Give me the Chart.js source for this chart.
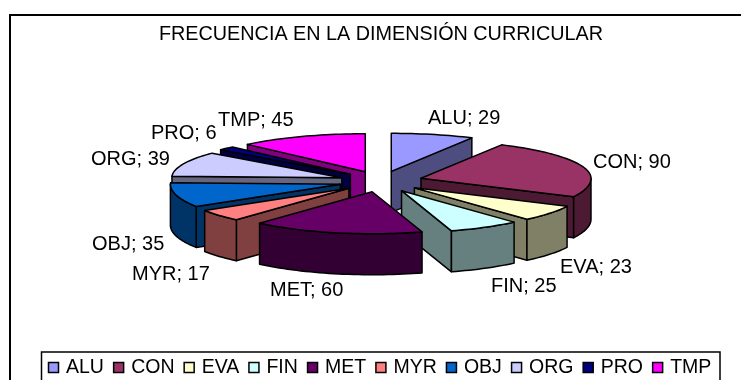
<!DOCTYPE html>
<html>
<head>
<meta charset="utf-8">
<style>
  html, body { margin: 0; padding: 0; background: #fff; }
  #wrap { position: relative; width: 741px; height: 380px; }
</style>
<script src="https://cdn.jsdelivr.net/npm/chart.js@4"></script>
</head>
<body>
<div id="wrap"><canvas id="pieChart" width="741" height="380"></canvas></div>
<script>
var chartTitle = 'FRECUENCIA EN LA DIMENSIÓN CURRICULAR';
var categories = ['ALU', 'CON', 'EVA', 'FIN', 'MET', 'MYR', 'OBJ', 'ORG', 'PRO', 'TMP'];
var frequencies = [29, 90, 23, 25, 60, 17, 35, 39, 6, 45];
var sliceColors = ['#9999FF', '#993366', '#FFFFCC', '#CCFFFF', '#660066', '#FF8080', '#0066CC', '#CCCCFF', '#000080', '#FF00FF'];
var wallColors = ['#4D4D80', '#4D1A33', '#808066', '#668080', '#330033', '#804040', '#003366', '#666680', '#000040', '#800080'];

// label anchors, left edge + vertical middle
var labelSpots = [[428, 118], [593, 162], [560, 267], [491, 286], [270, 290], [132, 274], [92, 244], [91, 159], [151, 133], [218, 120]];

var FONT = '"Liberation Sans", Arial, sans-serif';
// shape of the tilted pie, the far half looks a bit flatter than the near one
var RX = 170, RY_BACK = 38, RY_FRONT = 42, DEPTH = 41, EXPLODE = 42, EXPLODE_Y = 10.5;

function project(c, a, dy) {
    // chart.js angle 0 points right, -PI/2 is 12 o'clock
    var s = Math.sin(a);
    return [c.x + RX * Math.cos(a), c.y + (s < 0 ? RY_BACK : RY_FRONT) * s + dy];
}

function arcPoints(c, start, end, dy) {
    var n = Math.max(2, Math.ceil((end - start) / 0.03));
    var pts = [];
    for (var k = 0; k <= n; k++) pts.push(project(c, start + (end - start) * k / n, dy));
    return pts;
}

function fillPoly(ctx, pts) {
    ctx.beginPath();
    pts.forEach(function (p, k) {
        if (k === 0) ctx.moveTo(p[0], p[1]);
        else ctx.lineTo(p[0], p[1]);
    });
    ctx.closePath();
    ctx.fill();
    ctx.stroke();
}

function drawRadialWall(ctx, c, a) {
    var p = project(c, a, 0);
    fillPoly(ctx, [[c.x, c.y], p, [p[0], p[1] + DEPTH], [c.x, c.y + DEPTH]]);
}

function drawOuterWall(ctx, c, start, end) {
    // only the part facing the viewer (angles 0..PI once normalised)
    var twoPi = Math.PI * 2;
    var s = start, e = end;
    while (s < 0) { s += twoPi; e += twoPi; }
    var ranges = [[Math.max(s, 0), Math.min(e, Math.PI)], [Math.max(s, twoPi), Math.min(e, twoPi + Math.PI)]];
    ranges.forEach(function (r) {
        if (r[1] <= r[0]) return;
        fillPoly(ctx, arcPoints(c, r[0], r[1], 0).concat(arcPoints(c, r[0], r[1], DEPTH).reverse()));
    });
}

function drawLegend(ctx) {
    var x = 48, y = 367;
    ctx.font = '19.5px ' + FONT;
    ctx.lineWidth = 1.5;
    ctx.strokeStyle = '#000';
    categories.forEach(function (name, i) {
        ctx.fillStyle = sliceColors[i];
        ctx.fillRect(x + 0.5, y - 4.5, 10, 10);
        ctx.strokeRect(x + 0.5, y - 4.5, 10, 10);
        ctx.fillStyle = '#000';
        ctx.fillText(name, x + 18, y + 1);
        x += 18 + ctx.measureText(name).width + 9.2;
    });
}

var tiltedPie = {
    id: 'tiltedPie',
    beforeDraw: function (chart) {
        var ctx = chart.ctx;
        ctx.save();
        ctx.fillStyle = '#fff';
        ctx.fillRect(0, 0, chart.width, chart.height);
        ctx.strokeStyle = '#000';
        ctx.lineWidth = 2;
        ctx.strokeRect(10, 15, 740, 400);
        ctx.lineWidth = 1.5;
        ctx.strokeRect(41.5, 352, 678.5, 40);
        ctx.restore();
    },
    beforeDatasetsDraw: function (chart) {
        var ctx = chart.ctx;
        var arcs = chart.getDatasetMeta(0).data;
        var area = chart.chartArea;
        var cx = (area.left + area.right) / 2, cy = (area.top + area.bottom) / 2;
        var slices = arcs.map(function (arc, i) {
            var mid = (arc.startAngle + arc.endAngle) / 2;
            return {
                i: i, start: arc.startAngle, end: arc.endAngle,
                x: cx + EXPLODE * Math.cos(mid),
                y: cy + EXPLODE_Y * Math.sin(mid),
                key: Math.sin(mid)
            };
        });
        // back slices first
        slices.sort(function (a, b) { return a.key - b.key; });
        ctx.save();
        ctx.lineWidth = 1.5;
        ctx.lineJoin = 'round';
        ctx.strokeStyle = '#000';
        slices.forEach(function (s) {
            ctx.fillStyle = wallColors[s.i];
            // start edge faces us when its angle points left, end edge when it points right
            if (Math.cos(s.start) < 0) drawRadialWall(ctx, s, s.start);
            if (Math.cos(s.end) > 0) drawRadialWall(ctx, s, s.end);
            drawOuterWall(ctx, s, s.start, s.end);
            ctx.fillStyle = sliceColors[s.i];
            fillPoly(ctx, [[s.x, s.y]].concat(arcPoints(s, s.start, s.end, 0)));
        });
        ctx.restore();
        // pie is painted above, skip the flat one
        return false;
    },
    afterDraw: function (chart) {
        var ctx = chart.ctx;
        ctx.save();
        ctx.fillStyle = '#000';
        ctx.font = '20px ' + FONT;
        ctx.textBaseline = 'middle';
        ctx.textAlign = 'left';
        categories.forEach(function (name, i) {
            ctx.fillText(name + '; ' + frequencies[i], labelSpots[i][0], labelSpots[i][1]);
        });
        drawLegend(ctx);
        ctx.restore();
    }
};

new Chart(document.getElementById('pieChart').getContext('2d'), {
    type: 'pie',
    data: {
        labels: categories,
        datasets: [{ data: frequencies, backgroundColor: sliceColors, borderColor: '#000', borderWidth: 1 }]
    },
    plugins: [tiltedPie],
    options: {
        responsive: false,
        animation: false,
        layout: { padding: { left: 21, right: 0, top: 0, bottom: 63.76 } },
        plugins: {
            title: {
                display: true, text: chartTitle, color: '#000',
                font: { family: FONT, size: 19.8, weight: 'normal' },
                padding: { top: 23, bottom: 0 }
            },
            legend: { display: false },
            tooltip: { enabled: false }
        }
    }
});
</script>
</body>
</html>
